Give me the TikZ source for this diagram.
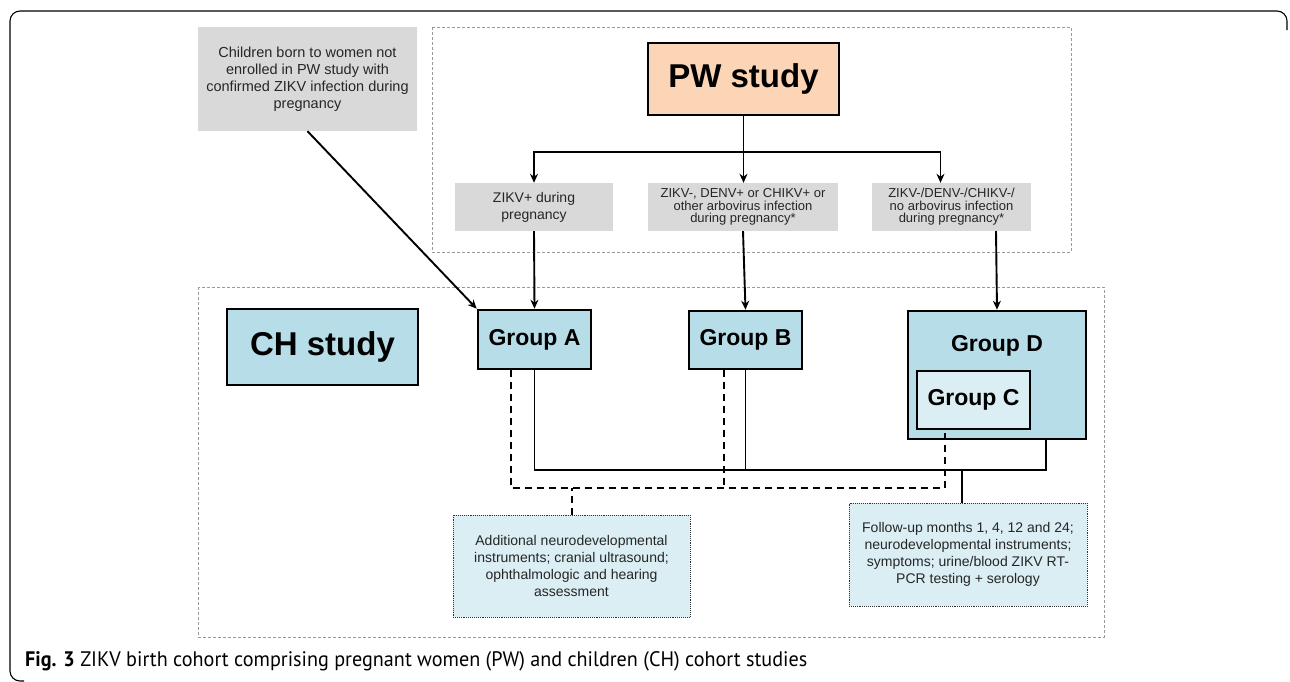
\documentclass[tikz,border=0pt]{standalone}
\usepackage{fontspec}
\setmainfont{Liberation Sans}
\newfontfamily\capfont{PT Sans}
\usetikzlibrary{arrows.meta}
\definecolor{grayfill}{HTML}{D9D9D9}
\definecolor{peach}{HTML}{FBD5B5}
\definecolor{chblue}{HTML}{B7DEE8}
\definecolor{lightblue}{HTML}{DAEEF3}
\definecolor{dashgray}{HTML}{9A9A9A}
\tikzset{
  graybox/.style={fill=grayfill, draw=none, align=center, inner sep=2pt, text=black!85,
    font=\fontsize{14}{17}\selectfont},
  tightgray/.style={graybox, font=\fontsize{13}{12.5}\selectfont},
  bigbox/.style={draw, line width=2.6pt, align=center, inner sep=0pt,
    font=\fontsize{33}{38}\selectfont\bfseries},
  grpbox/.style={draw, fill=chblue, line width=2.6pt, align=center, inner sep=0pt,
    font=\fontsize{23}{27}\selectfont\bfseries},
  notebox/.style={fill=lightblue, draw=black!80, line width=0.9pt, densely dotted,
    align=center, inner sep=2pt, text=black!85, font=\fontsize{14}{17}\selectfont},
  region/.style={draw=dashgray, line width=0.8pt, dash pattern=on 3pt off 2pt},
  conn/.style={line width=1.9pt},
  arr/.style={conn, -{Stealth[length=9pt,width=8pt]}},
  dconn/.style={line width=2pt, dash pattern=on 7pt off 5pt},
}
\begin{document}
\begin{tikzpicture}[x=1pt,y=-1pt]
\useasboundingbox (0,0) rectangle (1290,681);
% outer frame
\draw[line width=1.1pt, rounded corners=10pt] (24,681) -- (10,681) -- (10,11) -- (1287,11) -- (1287,30);
% regions
\draw[region] (432,27) rectangle (1071,252);
\draw[region] (198,287) rectangle (1104,637);
% nodes
\node[graybox, font=\fontsize{14.5}{17}\selectfont, minimum width=219pt, minimum height=104pt] (kids) at (307.5,79)
  {Children born to women not\\enrolled in PW study with\\confirmed ZIKV infection during\\pregnancy};
\node[bigbox, fill=peach, minimum width=191pt, minimum height=72pt] (pw) at (743.5,79) {PW study};
\node[graybox, minimum width=158pt, minimum height=48pt] (g1) at (534,207) {ZIKV+ during\\pregnancy};
\node[tightgray, minimum width=190pt, minimum height=48pt] (g2) at (743,207)
  {ZIKV-, DENV+ or CHIKV+ or\\other arbovirus infection\\during pregnancy*};
\node[tightgray, minimum width=159pt, minimum height=48pt] (g3) at (951.5,207)
  {ZIKV-/DENV-/CHIKV-/\\no arbovirus infection\\during pregnancy*};
\node[bigbox, fill=chblue, minimum width=191pt, minimum height=76pt] (ch) at (322.5,347) {CH study};
\node[grpbox, minimum width=113pt, minimum height=59pt] (ga) at (534.5,339.5) {Group A};
\node[grpbox, minimum width=113pt, minimum height=58pt] (gb) at (745.5,340) {Group B};
\node[grpbox, minimum width=178pt, minimum height=128pt] (gd) at (997,375) {};
\node[font=\fontsize{23}{27}\selectfont\bfseries, inner sep=0pt] (gdlabel) at (997,346) {Group D};
\node[grpbox, fill=lightblue, minimum width=113pt, minimum height=58pt] (gc) at (973.5,400) {Group C};
\node[notebox, minimum width=237pt, minimum height=102pt] (add) at (571.5,566)
  {Additional neurodevelopmental\\instruments; cranial ultrasound;\\ophthalmologic and hearing\\assessment};
\node[notebox, minimum width=238pt, minimum height=103pt] (fu) at (968,554.5)
  {Follow-up months 1, 4, 12 and 24;\\neurodevelopmental instruments;\\symptoms; urine/blood ZIKV RT-\\PCR testing + serology};
% caption
\node[anchor=base west, inner sep=0pt] (cap) at (25,666)
  {\resizebox{782pt}{\height}{\capfont\fontsize{21}{25}\selectfont\textbf{Fig. 3} ZIKV birth cohort comprising pregnant women (PW) and children (CH) cohort studies}};
% PW branching
\coordinate (j) at (743.5,152);
\draw[arr] (pw.south) -- (j) -- (g2.north -| j);
\draw[arr] (j) -| (g1.north);
\draw[arr] (j) -| ([xshift=-11pt]g3.north);
% down to groups
\draw[arr] (kids.south) -- (ga.north west);
\draw[arr] (g1.south) -- (ga.north);
\draw[arr] (g2.south) -- (gb.north);
\draw[arr] ([xshift=44.5pt]g3.south) -- (gd.north);
% solid follow-up bus
\coordinate (busA) at (534.5,470);
\draw[conn] (ga.south) -- (busA) -| ([xshift=49pt]gd.south);
\draw[conn] (gb.south) -- (gb.south |- busA);
\draw[conn] ([xshift=-6pt]fu.north) -- ([xshift=-6pt]fu.north |- busA);
% dashed additional bus
\coordinate (busB) at (511,488);
\draw[dconn] ([xshift=-23.5pt]ga.south) -- (busB) -| ([xshift=-28.5pt]gc.south);
\draw[dconn] ([xshift=-21.5pt]gb.south) -- ([xshift=-21.5pt]gb.south |- busB);
\draw[dconn] (add.north) -- (add.north |- busB);
\end{tikzpicture}
\end{document}
